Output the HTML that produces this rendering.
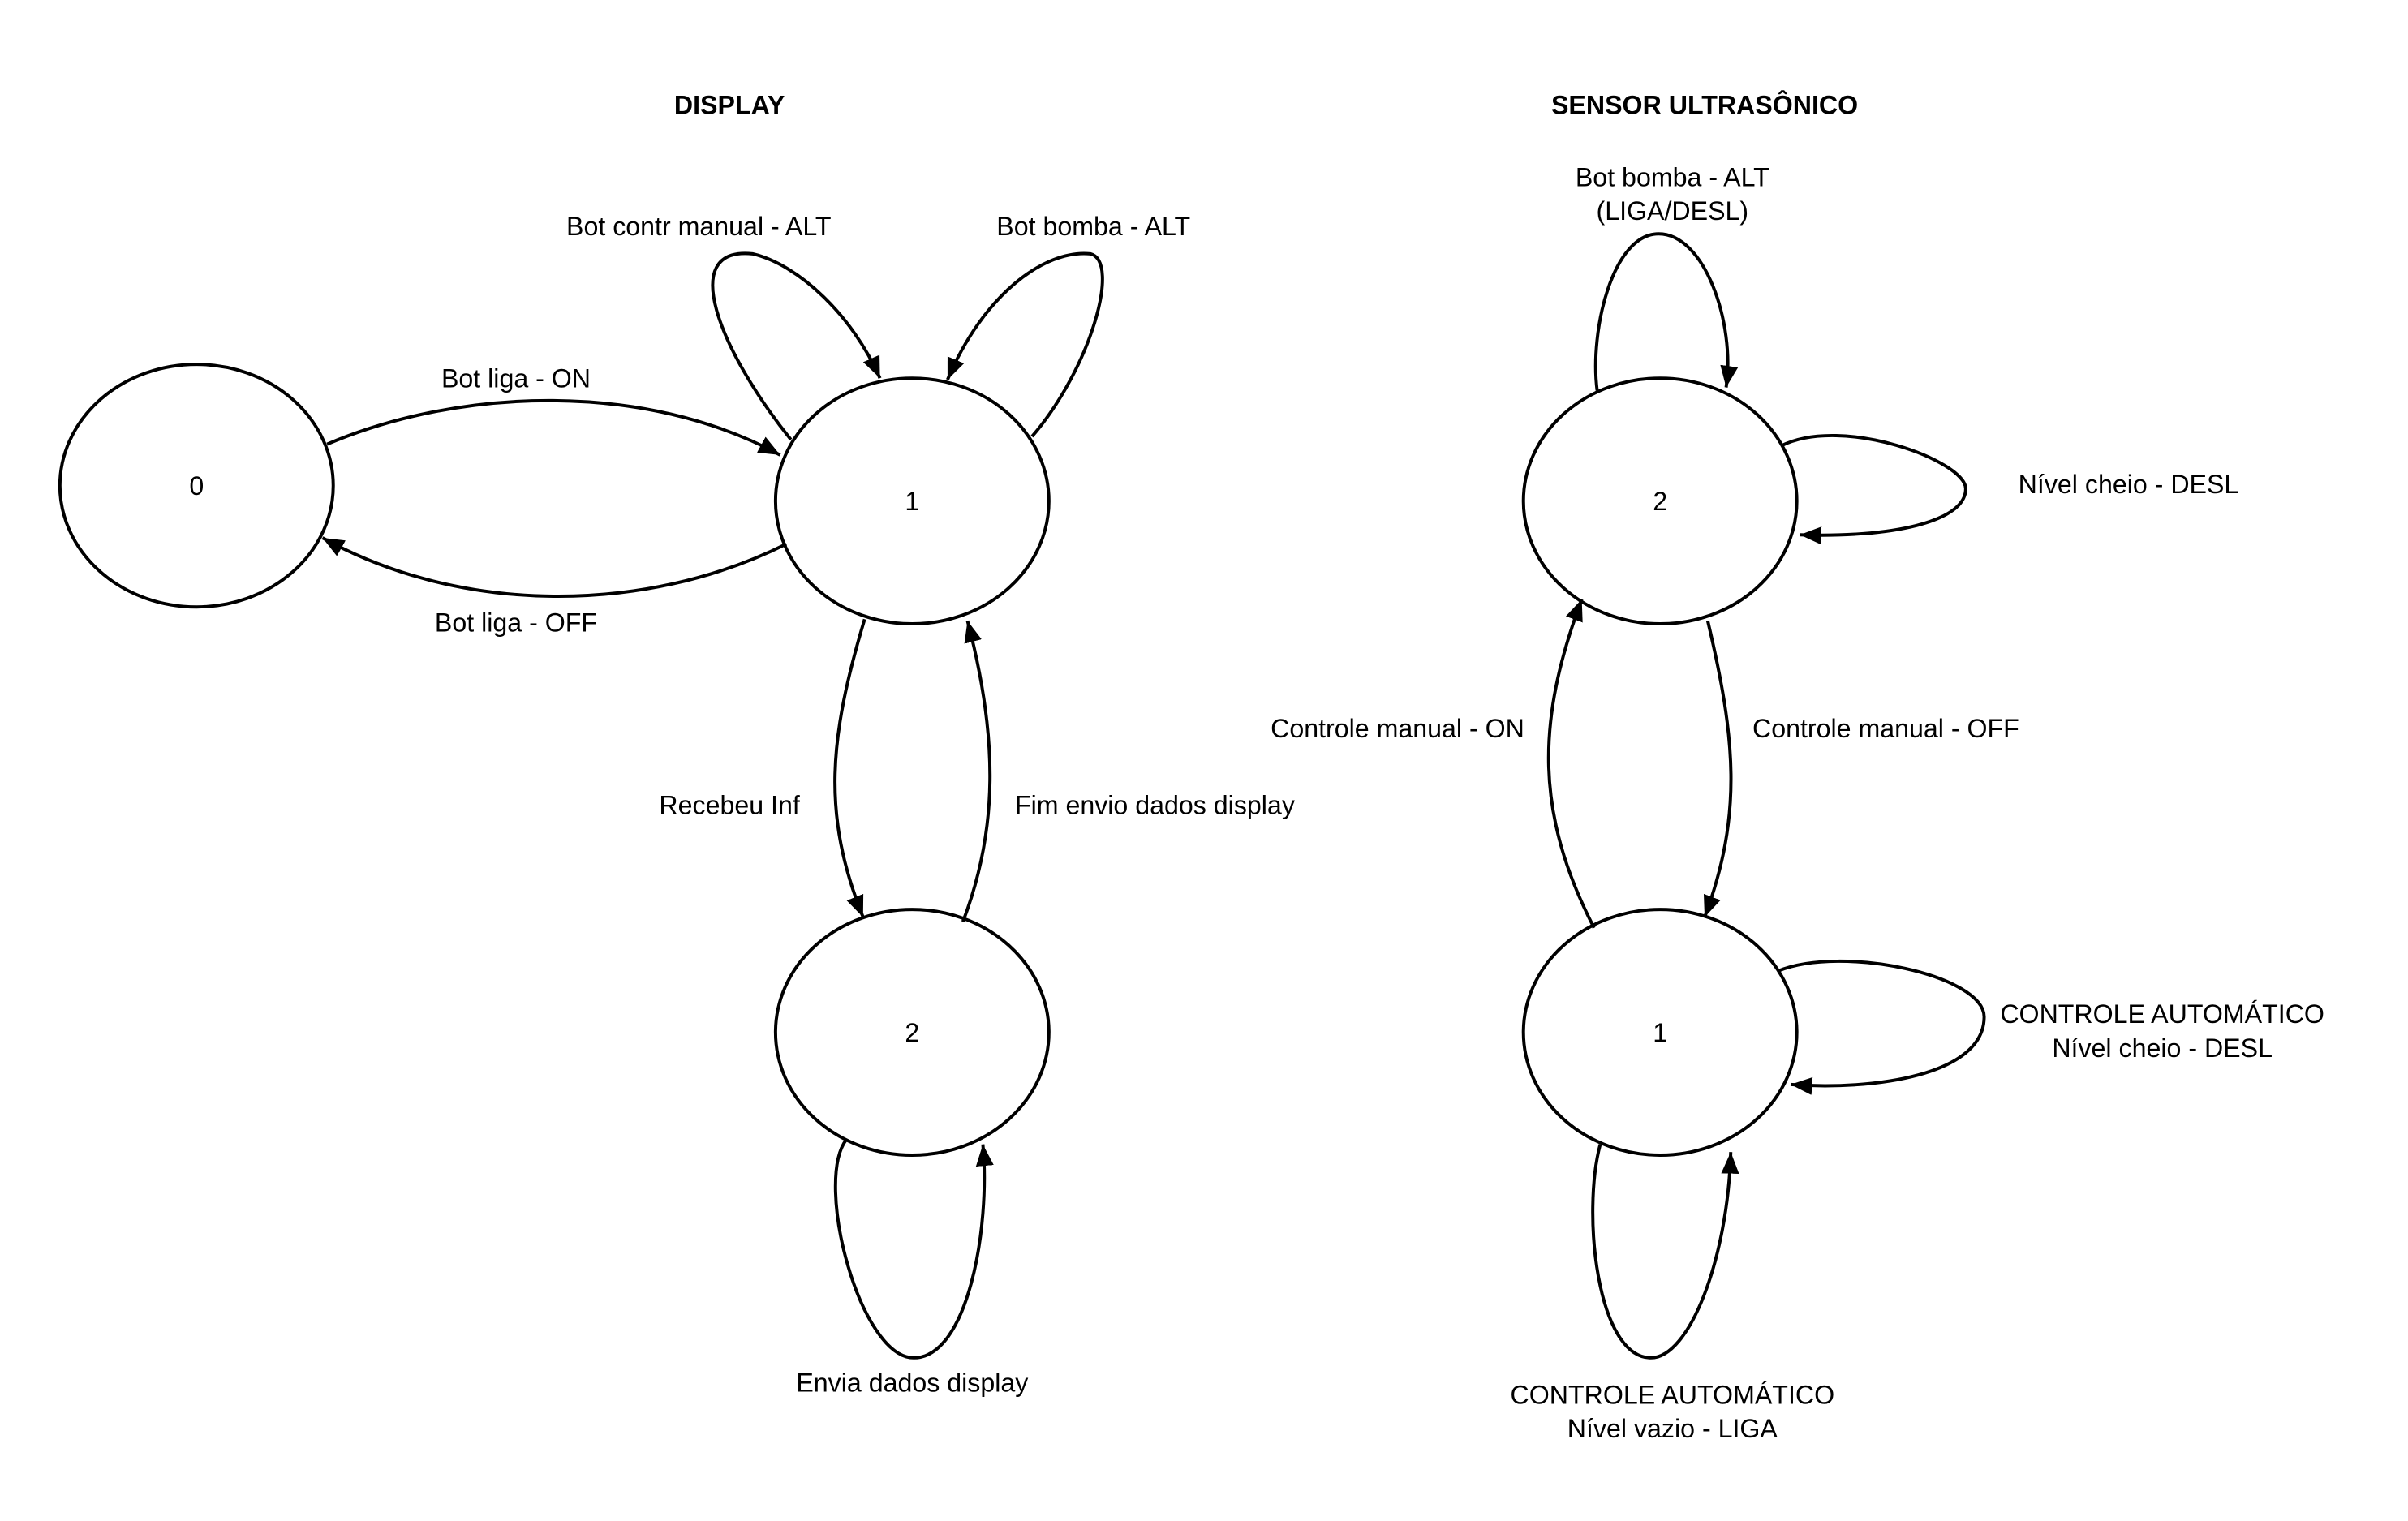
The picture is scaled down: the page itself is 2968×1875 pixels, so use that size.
<!DOCTYPE html>
<html><head><meta charset="utf-8"><style>html,body{margin:0;padding:0;background:#fff}svg{display:block}</style></head>
<body>
<svg width="2968" height="1875" viewBox="0 0 1568 990" xmlns="http://www.w3.org/2000/svg" font-family="Liberation Sans, sans-serif" font-size="17">
<defs><marker id="b" viewBox="0 0 12 10" refX="12" refY="5" markerWidth="14" markerHeight="12" orient="auto" markerUnits="userSpaceOnUse"><path d="M0,0 L12,5 L0,10z" fill="#000"/></marker></defs>
<g fill="#fff" stroke="#000" stroke-width="2.1">
<ellipse cx="128" cy="316" rx="89" ry="79"/>
<ellipse cx="594" cy="326" rx="89" ry="80"/>
<ellipse cx="594" cy="672" rx="89" ry="80"/>
<ellipse cx="1081" cy="326" rx="89" ry="80"/>
<ellipse cx="1081" cy="672" rx="89" ry="80"/>
</g>
<g fill="none" stroke="#000" stroke-width="2.1" marker-end="url(#b)">
<path d="M213,289 C300,252 420,248 508,296"/>
<path d="M512,354 C420,400 300,400 210,350"/>
<path d="M515,286 C470,230 440,160 490,165 C520,172 555,205 573,246"/>
<path d="M672,284 C710,240 730,170 710,165 C680,162 640,192 617,247"/>
<path d="M563,403 C540,480 535,530 562,597"/>
<path d="M627,600 C650,540 650,480 630,404"/>
<path d="M551,742 C530,770 560,884 595,884 C630,884 645,800 640,745"/>
<path d="M1040,254 C1035,215 1050,152 1080,152 C1110,152 1130,210 1124,252"/>
<path d="M1160,290 C1200,270 1280,300 1280,318 C1280,340 1230,350 1172,348"/>
<path d="M1038,604 C1000,530 1000,470 1030,390"/>
<path d="M1112,404 C1130,480 1135,530 1110,597"/>
<path d="M1158,632 C1200,615 1292,635 1292,662 C1292,700 1220,710 1166,706"/>
<path d="M1042,745 C1030,790 1040,884 1075,884 C1100,884 1125,820 1127,750"/>
</g>
<g text-anchor="middle" fill="#000">
<text x="475" y="74" font-weight="bold">DISPLAY</text>
<text x="1110" y="74" font-weight="bold">SENSOR ULTRASÔNICO</text>
<text x="128" y="322">0</text><text x="594" y="332">1</text><text x="594" y="678">2</text>
<text x="1081" y="332">2</text><text x="1081" y="678">1</text>
<text x="455" y="153">Bot contr manual - ALT</text>
<text x="712" y="153">Bot bomba - ALT</text>
<text x="336" y="252">Bot liga - ON</text>
<text x="336" y="411">Bot liga - OFF</text>
<text x="475" y="530">Recebeu Inf</text>
<text x="752" y="530">Fim envio dados display</text>
<text x="594" y="906">Envia dados display</text>
<text x="1089" y="121">Bot bomba - ALT</text>
<text x="1089" y="143">(LIGA/DESL)</text>
<text x="1386" y="321">Nível cheio - DESL</text>
<text x="910" y="480">Controle manual - ON</text>
<text x="1228" y="480">Controle manual - OFF</text>
<text x="1408" y="666">CONTROLE AUTOMÁTICO</text>
<text x="1408" y="688">Nível cheio - DESL</text>
<text x="1089" y="914">CONTROLE AUTOMÁTICO</text>
<text x="1089" y="936">Nível vazio - LIGA</text>
</g>
</svg>
</body></html>
